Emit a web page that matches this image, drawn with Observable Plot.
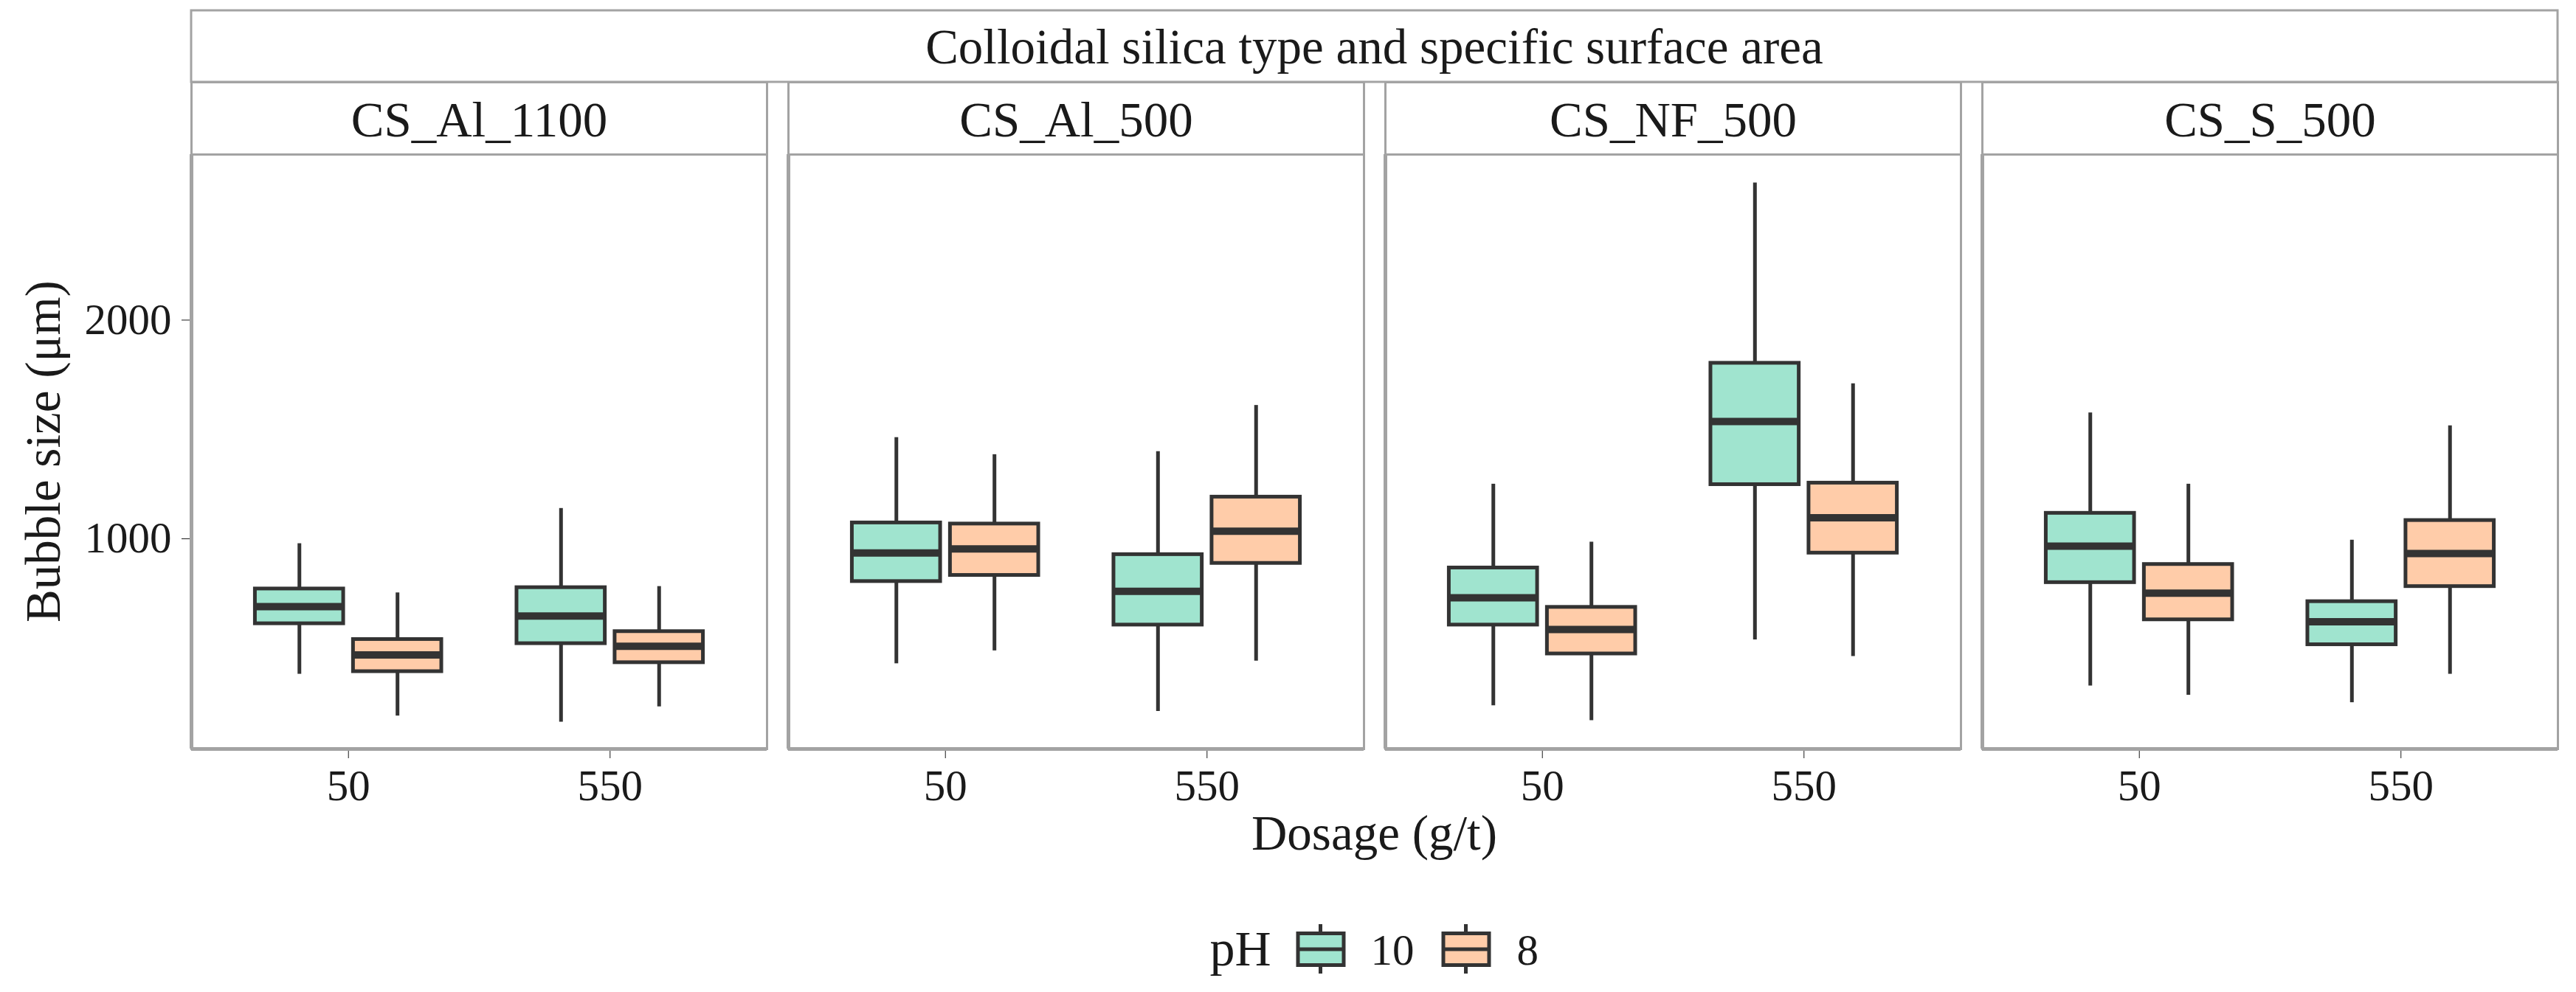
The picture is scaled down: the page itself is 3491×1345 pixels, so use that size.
<!DOCTYPE html>
<html>
<head>
<meta charset="utf-8">
<script src="https://cdn.jsdelivr.net/npm/d3@7"></script>
<script src="https://cdn.jsdelivr.net/npm/@observablehq/plot@0.6"></script>
<style>
  html, body { margin: 0; padding: 0; background: #ffffff; }
  svg { display: block; }
  #chart g[aria-label="x-axis"] text, #chart g[aria-label="y-axis"] text { font-size: 59px; fill: #1a1a1a; }
  #chart g[aria-label="x-axis"] line, #chart g[aria-label="y-axis"] line { stroke: #a3a3a3; stroke-width: 3px; }
  #chart g[aria-label="x-axis"] path.domain, #chart g[aria-label="y-axis"] path.domain { display: none; }
</style>
</head>
<body>
<div id="chart"></div>
<script>
// ---------- data ----------
const types = ["CS_Al_1100", "CS_Al_500", "CS_NF_500", "CS_S_500"];
const dosages = ["50", "550"];
const pHs = ["10", "8"];
const yTicks = [1000, 2000];

// order: per type -> dosage 50 (pH10, pH8), dosage 550 (pH10, pH8)
const whiskerLow  = [381, 190, 162, 232,   429, 488, 211, 441,   237, 169, 538, 462,   327, 285, 251, 381];
const q1          = [612, 393, 521, 434,   805, 833, 606, 888,   606, 474, 1248, 935,  800, 630, 516, 782];
const median      = [690, 469, 647, 509,   935, 954, 760, 1035,  730, 585, 1536, 1096, 966, 751, 621, 933];
const q3          = [771, 540, 777, 576,   1073, 1068, 928, 1191, 867, 687, 1803, 1255, 1117, 883, 713, 1084];
const whiskerHigh = [978, 753, 1139, 782,  1463, 1385, 1399, 1610, 1250, 985, 2627, 1709, 1576, 1250, 994, 1517];

const pHColors = ["#A0E4CF", "#FFCCA9"];

// ---------- table ----------
const dodge = 0.75;
const halfBox = dodge / 4 * 0.9;
const rows = [];
types.forEach((t, ti) => dosages.forEach((d, di) => pHs.forEach((p, pi) => {
  const k = ti * 4 + di * 2 + pi;
  const pos = di + 1 + (pi === 0 ? -1 : 1) * dodge / 4;
  rows.push({type: t, dosage: d, pH: p, pos, first: di === 0 && pi === 0,
    lo: whiskerLow[k], q1: q1[k], med: median[k], q3: q3[k], hi: whiskerHigh[k]});
})));

const gray = "#a3a3a3";
const ink = "#333333";
const textColor = "#1a1a1a";
const font = "Liberation Serif, Times New Roman, serif";
const yDomain = [39, 2757];
const xDomain = [0.4, 2.6];

const W = 3491, H = 1345, mTop = 209, mBottom = 330, mLeft = 257, mRight = 23;
const panelH = H - mTop - mBottom;
const padInner = 0.0358;

const chart = Plot.plot({
  width: W, height: H,
  marginTop: mTop, marginBottom: mBottom, marginLeft: mLeft, marginRight: mRight,
  style: {fontFamily: font, background: "white", color: textColor, fontSize: "59px"},
  facet: {data: rows, x: "type"},
  fx: {domain: types, paddingInner: padInner, paddingOuter: 0, axis: null, label: null},
  x: {domain: xDomain, ticks: [1, 2], tickSize: 13, tickPadding: 15, tickFormat: d => dosages[d - 1], label: null},
  y: {domain: yDomain, ticks: yTicks, tickSize: 13, tickPadding: 14, tickFormat: d3.format("d"), label: null},
  color: {domain: pHs, range: pHColors},
  marks: [
    // panel strips
    Plot.frame({fill: "white", stroke: gray, strokeWidth: 3, insetTop: -98, insetBottom: panelH}),
    Plot.text(rows, {filter: d => d.first, text: "type", frameAnchor: "top", lineAnchor: "middle",
      dy: -46, fontSize: 67, fill: textColor}),
    // panel border
    Plot.frame({stroke: gray, strokeWidth: 3}),
    Plot.ruleY([yDomain[0]], {stroke: gray, strokeWidth: 5}),
    Plot.ruleX([xDomain[0]], {stroke: gray, strokeWidth: 5}),
    // whiskers
    Plot.ruleX(rows, {x: "pos", y1: "q3", y2: "hi", stroke: ink, strokeWidth: 5}),
    Plot.ruleX(rows, {x: "pos", y1: "lo", y2: "q1", stroke: ink, strokeWidth: 5}),
    // boxes
    Plot.rect(rows, {x1: d => d.pos - halfBox, x2: d => d.pos + halfBox, y1: "q1", y2: "q3",
      fill: "pH", stroke: ink, strokeWidth: 5}),
    // medians
    Plot.ruleY(rows, {y: "med", x1: d => d.pos - halfBox, x2: d => d.pos + halfBox,
      stroke: ink, strokeWidth: 10})
  ]
});

document.getElementById("chart").appendChild(chart);

// ---------- decorations: outer strip, axis titles, legend ----------
const svg = d3.select(chart);
let left = mLeft, right = W - mRight;
try {
  const fxs = chart.scale("fx");
  if (fxs && fxs.apply) {
    left = fxs.apply(types[0]);
    right = fxs.apply(types[types.length - 1]) + fxs.bandwidth;
  }
} catch (e) {}
const cx = (left + right) / 2;

svg.append("rect").attr("x", left).attr("y", 14).attr("width", right - left).attr("height", mTop - 98 - 14)
  .attr("fill", "white").attr("stroke", gray).attr("stroke-width", 3);
svg.append("text").attr("x", cx).attr("y", 86).attr("text-anchor", "middle")
  .attr("font-size", 67).attr("fill", textColor).attr("font-family", font)
  .text("Colloidal silica type and specific surface area");

// y title
svg.append("text").attr("transform", `translate(81,${mTop + panelH / 2}) rotate(-90)`)
  .attr("text-anchor", "middle").attr("font-size", 67).attr("fill", textColor).attr("font-family", font)
  .text("Bubble size (μm)");

// x title
svg.append("text").attr("x", cx).attr("y", 1152).attr("text-anchor", "middle")
  .attr("font-size", 67).attr("fill", textColor).attr("font-family", font)
  .text("Dosage (g/t)");

// legend
const lg = svg.append("g").attr("transform", `translate(${cx},1287)`).attr("text-anchor", "start");
lg.append("text").attr("x", -223).attr("y", 22).attr("font-size", 68).attr("fill", textColor)
  .attr("text-anchor", "start").attr("font-family", font).text("pH");
const keyX = [-106, 91];
const labX = [-5, 193];
pHs.forEach((p, i) => {
  const g = lg.append("g").attr("transform", `translate(${keyX[i]},0)`);
  g.append("line").attr("x1", 33).attr("x2", 33).attr("y1", -34).attr("y2", 33)
    .attr("stroke", ink).attr("stroke-width", 5);
  g.append("rect").attr("x", 2.5).attr("y", -21.5).attr("width", 62).attr("height", 43)
    .attr("fill", pHColors[i]).attr("stroke", ink).attr("stroke-width", 5);
  g.append("line").attr("x1", 2.5).attr("x2", 64.5).attr("y1", 0).attr("y2", 0)
    .attr("stroke", ink).attr("stroke-width", 5);
  lg.append("text").attr("x", labX[i]).attr("y", 21).attr("font-size", 59).attr("fill", textColor)
    .attr("text-anchor", "start").attr("font-family", font).text(p);
});
</script>
</body>
</html>
